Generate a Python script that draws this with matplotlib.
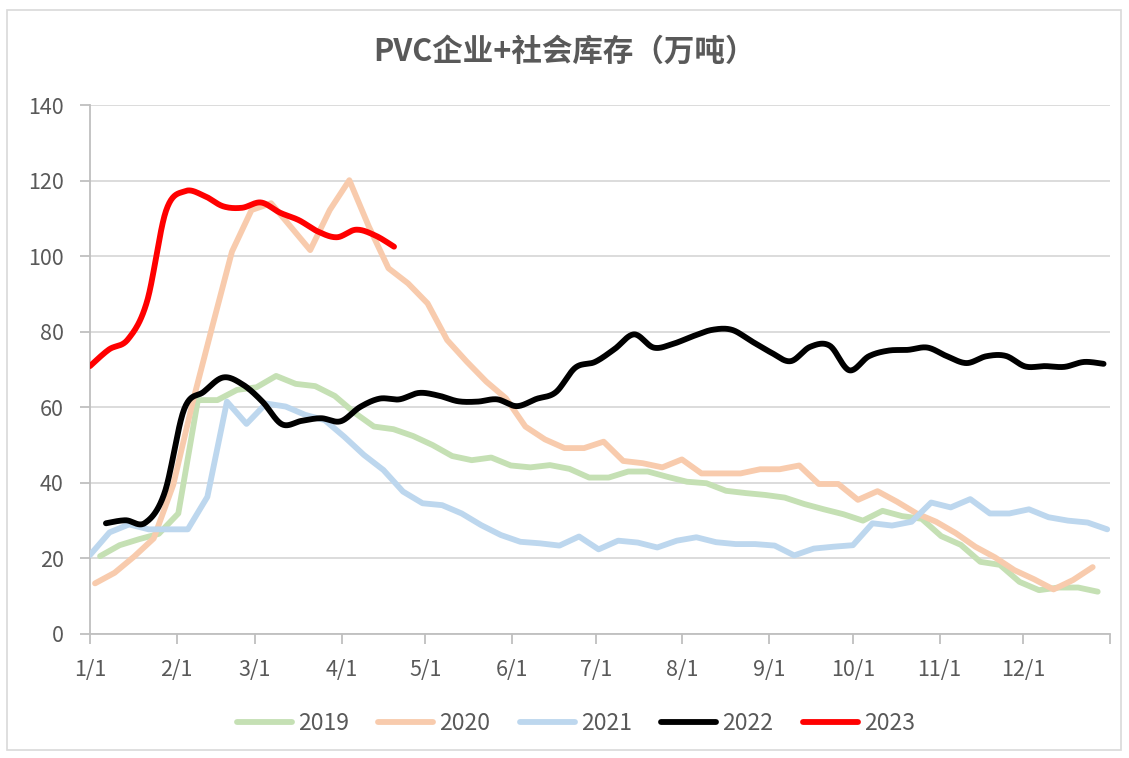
import numpy as np
import matplotlib
matplotlib.use("Agg")
import matplotlib.pyplot as plt
from matplotlib.patches import Rectangle

# ── 数据：周度库存（万吨），x 为年内天数 ─────────────────────────────────
years = ["2019", "2020", "2021", "2022", "2023"]
start_day = {"2019": 3.6, "2020": 1.8, "2021": 0.0, "2022": 5.7, "2023": 0.0}
step_day = {"2019": 7, "2020": 7, "2021": 7, "2022": 7, "2023": 6.8}

v2019 = [20.6, 23.5, 25.1, 26.5, 31.9, 61.9, 61.9, 64.6, 65.3, 68.3, 66.2, 65.6, 63.0,
         58.6, 54.9, 54.2, 52.4, 50.0, 47.1, 46.0, 46.7, 44.6, 44.1, 44.7, 43.7, 41.4,
         41.4, 43.0, 43.0, 41.6, 40.3, 39.9, 37.9, 37.3, 36.8, 36.1, 34.4, 33.0, 31.7,
         30.0, 32.6, 31.2, 30.5, 25.9, 23.6, 19.1, 18.3, 13.8, 11.6, 12.3, 12.3, 11.2]
v2020 = [13.4, 16.2, 20.5, 25.3, 39.5, 61.5, 81.5, 101.2, 112.2, 114.0, 107.8, 101.6,
         112.2, 120.1, 107.8, 96.8, 92.8, 87.5, 77.8, 72.1, 66.8, 62.4, 54.9, 51.5, 49.2,
         49.2, 50.9, 45.8, 45.2, 44.1, 46.2, 42.5, 42.5, 42.5, 43.6, 43.6, 44.6, 39.7,
         39.7, 35.5, 37.8, 35.0, 31.9, 29.7, 26.7, 23.1, 20.3, 16.9, 14.5, 11.8, 14.3, 17.7]
v2021 = [20.9, 26.9, 29.0, 27.7, 27.7, 27.7, 36.3, 61.5, 55.6, 61.0, 60.2, 58.0, 56.6,
         52.2, 47.4, 43.4, 37.7, 34.6, 34.1, 31.9, 28.8, 26.2, 24.4, 24.0, 23.4, 25.8,
         22.4, 24.7, 24.2, 22.9, 24.7, 25.6, 24.3, 23.8, 23.8, 23.4, 20.8, 22.6, 23.1,
         23.5, 29.3, 28.7, 29.7, 34.8, 33.5, 35.7, 31.9, 31.9, 33.0, 30.9, 30.0, 29.5, 27.7]
v2022 = [29.3, 30.1, 29.4, 37.4, 59.5, 64.1, 67.9, 66.0, 61.5, 55.5, 56.4, 57.1, 56.3,
         60.1, 62.3, 62.1, 63.8, 63.1, 61.6, 61.5, 62.1, 60.3, 62.2, 64.0, 70.5, 72.0,
         75.4, 79.3, 75.8, 76.8, 78.8, 80.5, 80.5, 77.5, 74.5, 72.2, 76.0, 76.3, 69.8,
         73.5, 75.0, 75.2, 75.8, 73.5, 71.7, 73.5, 73.6, 70.8, 70.9, 70.7, 72.0, 71.5]
v2023 = [70.9, 75.3, 78.0, 88.0, 112.0, 117.2, 116.0, 113.2, 112.8, 114.2, 111.5,
         109.5, 106.5, 105.0, 107.0, 105.5, 102.5]

series = {"2019": v2019, "2020": v2020, "2021": v2021, "2022": v2022, "2023": v2023}
colors = {"2019": "#C5E0B4", "2020": "#F8CBAD", "2021": "#BDD7EE",
          "2022": "#000000", "2023": "#FF0000"}
smooth_years = {"2022", "2023"}

month_days = [0, 31, 59, 90, 120, 151, 181, 212, 243, 273, 304, 334]
month_labels = ["1/1", "2/1", "3/1", "4/1", "5/1", "6/1",
                "7/1", "8/1", "9/1", "10/1", "11/1", "12/1"]
y_ticks = [0, 20, 40, 60, 80, 100, 120, 140]


def smooth_curve(x, y, n=24):
    # Excel 风格平滑线：Catmull-Rom 转 Bezier
    pts = np.column_stack([x, y]).astype(float)
    p = np.vstack([pts[0], pts, pts[-1]])
    t = np.linspace(0, 1, n)[:, None]
    out = []
    for i in range(1, len(p) - 2):
        p0, p1, p2, p3 = p[i - 1], p[i], p[i + 1], p[i + 2]
        c1 = p1 + (p2 - p0) / 6
        c2 = p2 - (p3 - p1) / 6
        seg = ((1 - t) ** 3) * p1 + 3 * ((1 - t) ** 2) * t * c1 \
            + 3 * (1 - t) * t ** 2 * c2 + t ** 3 * p2
        out.append(seg if i == 1 else seg[1:])
    out = np.vstack(out)
    return out[:, 0], out[:, 1]


plt.rcParams["font.family"] = ["Noto Sans CJK SC", "DejaVu Sans"]

fig = plt.figure(figsize=(11.29, 7.58), dpi=100)
ax = fig.add_axes([90 / 1129, 1 - 634 / 758, 1020 / 1129, 529 / 758])

# 外框
fig.patches.append(Rectangle((7 / 1129, 8 / 758), 1114 / 1129, 740 / 758,
                             transform=fig.transFigure, fill=False,
                             edgecolor="#D9D9D9", linewidth=1.2))

for yr in years:
    vals = np.array(series[yr], dtype=float)
    days = start_day[yr] + step_day[yr] * np.arange(len(vals))
    if yr in smooth_years:
        xs, ys = smooth_curve(days, vals)
    else:
        xs, ys = days, vals
    ax.plot(xs, ys, color=colors[yr], linewidth=4.2, label=yr,
            solid_capstyle="round", solid_joinstyle="round", zorder=3)

ax.set_xlim(0, 365)
ax.set_ylim(0, 140)
ax.set_yticks(y_ticks)
ax.set_xticks(month_days + [365])
ax.set_xticklabels(month_labels + [""])

ax.grid(axis="y", color="#D9D9D9", linewidth=1.3, zorder=0)
ax.set_axisbelow(True)
for side in ["top", "right"]:
    ax.spines[side].set_visible(False)
for side in ["left", "bottom"]:
    ax.spines[side].set_color("#BFBFBF")
    ax.spines[side].set_linewidth(1.3)

ax.tick_params(axis="y", direction="out", length=7, width=1.3, color="#BFBFBF",
               labelsize=15.5, labelcolor="#595959", pad=12)
ax.tick_params(axis="x", direction="out", length=7, width=1.3, color="#BFBFBF",
               labelsize=15.5, labelcolor="#595959", pad=11)

fig.text(0.5, 1 - 52 / 758, "PVC企业+社会库存（万吨）", ha="center", va="center",
         fontsize=22, fontweight="bold", color="#595959")

leg = fig.legend(loc="center", bbox_to_anchor=(0.51, 1 - 724 / 758), ncol=5,
                 frameon=False, fontsize=16.5, handlelength=2.4,
                 handletextpad=0.25, columnspacing=1.3)
for txt in leg.get_texts():
    txt.set_color("#595959")

fig.savefig("out.png", dpi=100)
